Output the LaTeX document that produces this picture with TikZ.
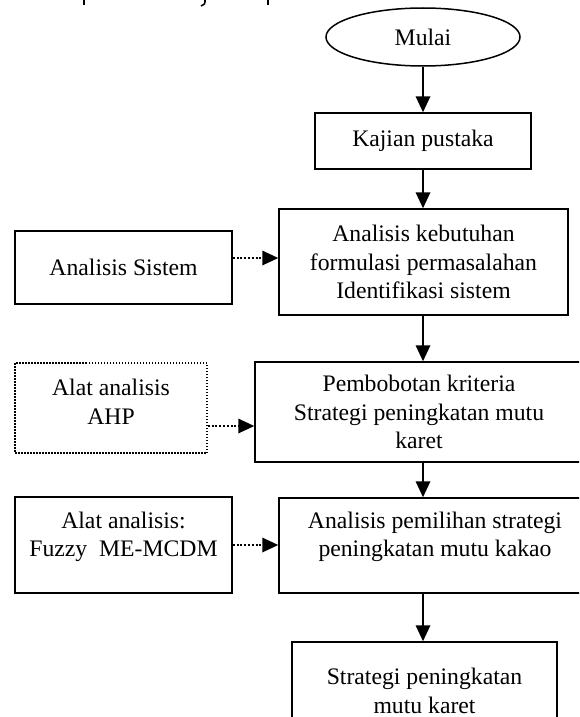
\documentclass[tikz,border=0pt]{standalone}
\usepackage{fontspec}
\setmainfont{Liberation Serif}
\usetikzlibrary{arrows.meta,shapes.geometric}
\begin{document}
\begin{tikzpicture}[x=1pt,y=-1pt,
  txt/.style={align=center,inner sep=0pt,font=\fontsize{23.7}{28.5}\selectfont},
  box/.style={txt,draw,line width=1.5pt},
  dbox/.style={txt,draw,line width=1.4pt,dash pattern=on 1.5pt off 1.5pt},
  arr/.style={line width=1.8pt,-{Triangle[length=16pt,width=14.5pt]}},
  darr/.style={arr,dash pattern=on 2pt off 1.8pt},
]
\useasboundingbox (0,0) rectangle (579,717);
\clip (0,0) rectangle (579,717);
% cropped fragments of text above the figure
\draw[line width=1.6pt] (84,0) -- (84,5);
\draw[line width=1.6pt] (205,0) .. controls (205,4) .. (201,6);
\draw[line width=1.6pt] (268,0) -- (268,5);

\node[txt,draw,line width=1.5pt,ellipse,minimum width=194,minimum height=58] (mulai) at (423,37) {Mulai};
\node[box,minimum width=216,minimum height=56] (kajian) at (423,141) {Kajian pustaka};
\node[box,minimum width=289,minimum height=106] (anb) at (423.5,262) {Analisis kebutuhan\\formulasi permasalahan\\Identifikasi sistem};
\node[box,minimum width=217,minimum height=73] (asis) at (123.5,267.5) {Analisis Sistem};

\node[dbox,minimum width=192,minimum height=90] (ahp) at (111,408) {};
\node[txt] (ahpT) at (111,402) {Alat analisis\\AHP};
\node[box,minimum width=328,minimum height=100] (bobot) at (419,412) {Pembobotan kriteria\\Strategi peningkatan mutu\\karet};

\node[box,minimum width=217,minimum height=96] (mcdm) at (123.5,545) {};
\node[txt] (mcdmT) at (123.5,537) {Alat analisis:\\Fuzzy\ \ ME-MCDM};
\node[box,minimum width=312,minimum height=95] (pilih) at (435,545.5) {};
\node[txt] (pilihT) at (435,537) {Analisis pemilihan strategi\\peningkatan mutu kakao};

\node[box,minimum width=265,minimum height=98] (hasil) at (424.5,691) {Strategi peningkatan\\mutu karet};

\coordinate (ya) at (0,258);
\coordinate (yb) at (0,426);
\draw[arr] (mulai.south) -- (kajian.north);
\draw[arr] (kajian.south -| mulai) -- (anb.north -| mulai);
\draw[darr] (asis.east |- ya) -- (anb.west |- ya);
\draw[arr] (anb.south -| mulai) -- (bobot.north -| mulai);
\draw[darr] (ahp.east |- yb) -- (bobot.west |- yb);
\draw[arr] (bobot.south -| mulai) -- (pilih.north -| mulai);
\draw[darr] (mcdm.east) -- (pilih.west |- mcdm.east);
\draw[arr] (pilih.south -| mulai) -- (hasil.north -| mulai);
\end{tikzpicture}
\end{document}
